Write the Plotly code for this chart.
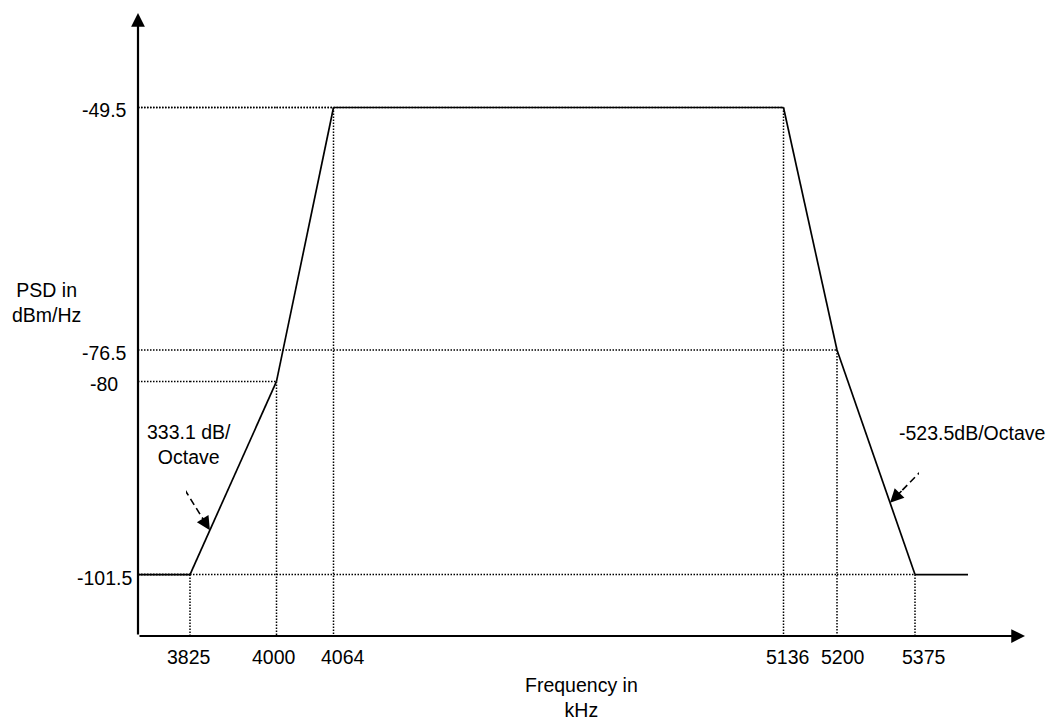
import plotly.graph_objects as go

# ---------------- data ----------------
freq_khz = [3825, 4000, 4064, 5136, 5200, 5375]          # mask breakpoints
psd_dbm_hz = [-101.5, -80, -49.5, -49.5, -76.5, -101.5]  # PSD at each breakpoint
freq_tick_labels = ["3825", "4000", "4064", "5136", "5200", "5375"]
psd_levels = [-49.5, -76.5, -80, -101.5]
psd_tick_labels = ["-49.5", "-76.5", "-80", "-101.5"]
mask_ends_khz = [3700, 5500]   # flat floor continues beyond the outer breakpoints (estimated)
slope_texts = ["333.1 dB/<br>Octave", "-523.5dB/Octave"]
y_title = "PSD in<br>dBm/Hz"
x_title = "Frequency in<br>kHz"

# ---------------- layout / style ----------------
W, H = 1050, 724
L, R, T, B = 138, 25, 13, 88
PW, PH = W - L - R, H - T - B
# schematic (non-uniform) frequency axis: pixel x of every segment boundary
seg_px = [138, 190, 276.5, 333.5, 783.5, 837, 915, 968]
Y_RANGE = [-108.34, -38.98]
PAD = 4
FONT = dict(family="Liberation Sans, Arial, sans-serif", size=19.5, color="black")
tick_label_nudge_px = [-1, -2.5, 9.5, 3.5, 6, 9]
slope_arrow_seg = [1, 5]          # segment the arrow points at
slope_arrow_frac = [0.23, 0.68]   # where on that segment
slope_arrow_tail = [(-31, -50), (48, -49)]  # tail offset from tip, screen px
slope_text_px = [(189, 445), (972, 433)]


def paper_x(px):
    return (px - L) / PW


def paper_y(py):
    return (T + PH - py) / PH


mx = [mask_ends_khz[0]] + freq_khz + [mask_ends_khz[1]]
my = [psd_dbm_hz[0]] + psd_dbm_hz + [psd_dbm_hz[-1]]
nseg = len(mx) - 1

fig = go.Figure()
layout_axes = {}
axis_ids = []
for i in range(nseg):
    p0, p1 = seg_px[i], seg_px[i + 1]
    e0, e1 = mx[i], mx[i + 1]
    kpp = (e1 - e0) / (p1 - p0)
    padl = min(PAD, p0 - L)
    padr = min(PAD, L + PW - p1)
    name = "xaxis" if i == 0 else f"xaxis{i + 1}"
    axis_ids.append("x" if i == 0 else f"x{i + 1}")
    layout_axes[name] = dict(
        domain=[paper_x(p0 - padl), paper_x(p1 + padr)],
        range=[e0 - padl * kpp, e1 + padr * kpp],
        visible=False, anchor="y", fixedrange=True,
    )

dot = dict(color="black", width=1.5, dash="1.5px,1.5px")
solid = dict(color="black", width=1.7)

# dotted guide lines for every breakpoint
for k in range(1, len(mx) - 1):
    for i in range(k):
        fig.add_trace(go.Scatter(x=[mx[i], mx[i + 1]], y=[my[k], my[k]], mode="lines",
                                 line=dot, xaxis=axis_ids[i], yaxis="y",
                                 hoverinfo="skip", showlegend=False))
    fig.add_trace(go.Scatter(x=[mx[k], mx[k]], y=[my[k], Y_RANGE[0]], mode="lines",
                             line=dot, xaxis=axis_ids[k], yaxis="y",
                             hoverinfo="skip", showlegend=False))

# PSD mask
for i in range(nseg):
    fig.add_trace(go.Scatter(x=[mx[i], mx[i + 1]], y=[my[i], my[i + 1]], mode="lines",
                             line=solid, xaxis=axis_ids[i], yaxis="y",
                             hoverinfo="skip", showlegend=False))

annotations = []
shapes = []

# axes with arrow heads
annotations.append(dict(x=1, y=0, xref="paper", yref="paper", ax=-PW, ay=0,
                        text="", showarrow=True,
                        arrowhead=2, arrowwidth=2.2, arrowsize=1.25, arrowcolor="black"))
annotations.append(dict(x=0, y=1, xref="paper", yref="paper", ax=0, ay=PH,
                        text="", showarrow=True,
                        arrowhead=2, arrowwidth=2.2, arrowsize=1.25, arrowcolor="black"))

# y tick labels
for lv, lab in zip(psd_levels, psd_tick_labels):
    annotations.append(dict(x=paper_x(104), y=lv, xref="paper", yref="y", text=lab,
                            showarrow=False, xanchor="center", yanchor="middle",
                            yshift=-3, font=FONT))

# x tick labels
for k, (f, lab) in enumerate(zip(freq_khz, freq_tick_labels)):
    annotations.append(dict(x=f, y=paper_y(657), xref=axis_ids[k + 1], yref="paper",
                            text=lab, showarrow=False, xanchor="center", yanchor="middle",
                            xshift=tick_label_nudge_px[k], font=FONT))

# axis titles
annotations.append(dict(x=paper_x(46), y=paper_y(302), xref="paper", yref="paper",
                        text=y_title, showarrow=False, xanchor="center", yanchor="middle",
                        font=FONT))
annotations.append(dict(x=paper_x(581), y=paper_y(697), xref="paper", yref="paper",
                        text=x_title, showarrow=False, xanchor="center", yanchor="middle",
                        font=FONT))

# slope labels with dashed arrows
for txt, (tx, ty), seg, frac, (dx, dy) in zip(slope_texts, slope_text_px, slope_arrow_seg,
                                             slope_arrow_frac, slope_arrow_tail):
    annotations.append(dict(x=paper_x(tx), y=paper_y(ty), xref="paper", yref="paper",
                            text=txt, showarrow=False, xanchor="center", yanchor="middle",
                            font=FONT))
    fx = mx[seg] + frac * (mx[seg + 1] - mx[seg])
    fy = my[seg] + frac * (my[seg + 1] - my[seg])
    shapes.append(dict(type="line", xref=axis_ids[seg], yref="y",
                       xsizemode="pixel", ysizemode="pixel",
                       xanchor=fx, yanchor=fy, x0=dx, y0=-dy, x1=dx * 0.15, y1=-dy * 0.15,
                       line=dict(color="black", width=1.6, dash="7px,4px")))
    annotations.append(dict(x=fx, y=fy, xref=axis_ids[seg], yref="y",
                            ax=dx * 0.27, ay=dy * 0.27, text="", showarrow=True,
                            arrowhead=2, arrowwidth=1.6, arrowsize=1.7,
                            arrowcolor="black"))

fig.update_layout(
    width=W, height=H,
    margin=dict(l=L, r=R, t=T, b=B),
    paper_bgcolor="white", plot_bgcolor="rgba(0,0,0,0)",
    yaxis=dict(domain=[0, 1], range=Y_RANGE, visible=False, anchor="x", fixedrange=True),
    annotations=annotations, shapes=shapes,
    showlegend=False,
    **layout_axes,
)

fig.write_html("out.html",
               config={"displayModeBar": False, "staticPlot": True},
               post_script="document.body.style.margin='0';document.body.style.overflow='hidden';")
